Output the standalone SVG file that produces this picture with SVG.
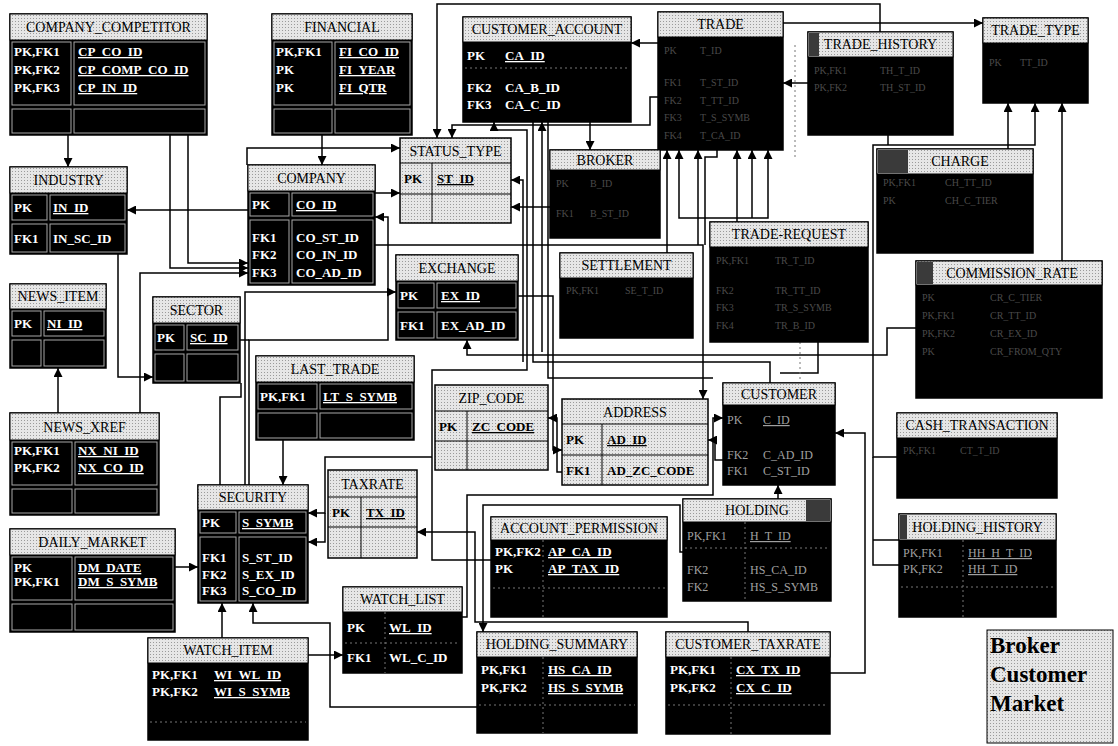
<svg xmlns="http://www.w3.org/2000/svg" width="1118" height="746" viewBox="0 0 1118 746">
<defs>
<marker id="a" viewBox="0 0 10 10" refX="10" refY="5" markerWidth="10" markerHeight="9" markerUnits="userSpaceOnUse" orient="auto"><path d="M0,0 L10,5 L0,10 z" fill="#000"/></marker>
<pattern id="dots" width="3" height="3" patternUnits="userSpaceOnUse"><rect width="3" height="3" fill="#e6e6e6"/><rect width="1" height="1" fill="#9a9a9a"/></pattern>
</defs>
<style>
.box{fill:#000;stroke:#000;stroke-width:1.5}
.gbox{fill:url(#dots);stroke:#000;stroke-width:1.5}
.hdr{fill:url(#dots);stroke:#000;stroke-width:1}
.dk{fill:#3a3a3a}
.cell{fill:none;stroke:#a8a8a8;stroke-width:1}
.gl{fill:none;stroke:#000;stroke-width:1}
.t{font-family:"Liberation Serif",serif;font-size:14px;fill:#000;text-anchor:middle}
.k{font-family:"Liberation Serif",serif;font-size:13px;font-weight:bold;fill:#fff}
.g{font-family:"Liberation Serif",serif;font-size:13px;font-weight:bold;fill:#000}
.d{font-family:"Liberation Serif",serif;font-size:12px;fill:#a0a0a0}
.f{font-family:"Liberation Serif",serif;font-size:10px;fill:#4a4a4a}
.u{text-decoration:underline}
.c{fill:none;stroke:#000;stroke-width:1.5;marker-end:url(#a)}
.n{fill:none;stroke:#000;stroke-width:1.5}
.dash{fill:none;stroke:#777;stroke-width:1;stroke-dasharray:2 3}
.leg{font-family:"Liberation Serif",serif;font-size:23px;font-weight:bold;fill:#000}
</style>
<rect width="1118" height="746" fill="#fff"/>

<g id="connectors">
<path class="c" d="M68,135 V167"/>
<path class="c" d="M170,135 V268 H248"/>
<path class="c" d="M188,135 V263 H248"/>
<path class="c" d="M248,210 H127"/>
<path class="c" d="M118,254 V377 H153"/>
<path class="c" d="M58,413 V368"/>
<path class="c" d="M140,413 V273 H248"/>
<path class="c" d="M322,135 V165"/>
<path class="c" d="M247,165 V148 H400"/>
<path class="c" d="M375,193 H400"/>
<path class="c" d="M245,485 V292 H396"/>
<path class="c" d="M249,485 V340 H388 V217 H375"/>
<path class="n" d="M240,340 H249"/>
<path class="n" d="M241,383 V397 H220 V485"/>
<path class="c" d="M283,440 V485"/>
<path class="c" d="M175,567 H198"/>
<path class="c" d="M222,638 V603"/>
<path class="c" d="M477,707 H330 V623 H253 V603"/>
<path class="c" d="M308,655 H343"/>
<path class="c" d="M432,457 H325 V513 H308"/>
<path class="c" d="M325,513 V542 H308"/>
<path class="c" d="M880,32 V4 H437 V138"/>
<path class="c" d="M658,97 H650 V125 H452 V138"/>
<path class="c" d="M658,43 H631"/>
<path class="c" d="M590,122 V150"/>
<path class="c" d="M808,83 H783"/>
<path class="c" d="M783,23 H983"/>
<path class="c" d="M1008,149 V103"/>
<path class="c" d="M898,457 H873 V145 H1035 V103"/>
<path class="n" d="M899,540 H873"/>
<path class="n" d="M899,565 H873 V457"/>
<path class="n" d="M888,135 V145"/>
<path class="c" d="M1062,261 V103"/>
<path class="c" d="M737,222 V150"/>
<path class="c" d="M737,218 H679 V150"/>
<path class="c" d="M737,218 H768 V150"/>
<path class="c" d="M752,218 V150"/>
<path class="c" d="M667,253 V150"/>
<path class="c" d="M698,245 V150"/>
<path class="n" d="M717,150 V157 H705 V245"/>
<path class="c" d="M375,245 H703 V399"/>
<path class="c" d="M916,328 H887 V355 H467 V340"/>
<path class="c" d="M830,673 H865 V433 H835"/>
<path class="c" d="M518,296 H553 V450 H562"/>
<path class="c" d="M562,472 H557 V418 H548"/>
<path class="c" d="M723,460 H715 V440 H708"/>
<path class="n" d="M548,122 V378 H713"/>
<path class="c" d="M462,617 H467 V495 H713 V418 H723"/>
<path class="n" d="M533,122 V362 H770 V383"/>
<path class="c" d="M550,207 H511"/>
<path class="c" d="M523,362 V180 H511"/>
<path class="c" d="M542,352 V122"/>
<path class="c" d="M491,560 H432 V370 H527 V130 H494 V122"/>
<path class="c" d="M683,552 H680 V505 H483 V632"/>
<path class="c" d="M778,499 V485"/>
<path class="c" d="M748,632 V622 H475 V532 H417"/>
<path class="n" d="M818,342 V373 H780"/>
<path class="dash" d="M795,45 V160"/>
<path class="dash" d="M800,342 V380"/>
</g>

<g id="company_competitor">
<rect class="box" x="10" y="14" width="197" height="121"/>
<rect class="hdr" x="10" y="14" width="197" height="26"/>
<text class="t" x="108.5" y="32">COMPANY_COMPETITOR</text>
<rect class="cell" x="12" y="42" width="59" height="63"/><rect class="cell" x="74" y="42" width="131" height="63"/>
<rect class="cell" x="12" y="109" width="59" height="24"/><rect class="cell" x="74" y="109" width="131" height="24"/>
<text class="k" x="14" y="56">PK,FK1</text><text class="k u" x="78" y="56">CP_CO_ID</text>
<text class="k" x="14" y="74">PK,FK2</text><text class="k u" x="78" y="74">CP_COMP_CO_ID</text>
<text class="k" x="14" y="92">PK,FK3</text><text class="k u" x="78" y="92">CP_IN_ID</text>
</g>

<g id="financial">
<rect class="box" x="272" y="14" width="140" height="121"/>
<rect class="hdr" x="272" y="14" width="140" height="26"/>
<text class="t" x="342" y="32">FINANCIAL</text>
<rect class="cell" x="274" y="42" width="58" height="63"/><rect class="cell" x="335" y="42" width="75" height="63"/>
<rect class="cell" x="274" y="109" width="58" height="24"/><rect class="cell" x="335" y="109" width="75" height="24"/>
<text class="k" x="276" y="56">PK,FK1</text><text class="k u" x="339" y="56">FI_CO_ID</text>
<text class="k" x="276" y="74">PK</text><text class="k u" x="339" y="74">FI_YEAR</text>
<text class="k" x="276" y="92">PK</text><text class="k u" x="339" y="92">FI_QTR</text>
</g>

<g id="industry">
<rect class="box" x="10" y="167" width="117" height="87"/>
<rect class="hdr" x="10" y="167" width="117" height="26"/>
<text class="t" x="68.5" y="185">INDUSTRY</text>
<rect class="cell" x="12" y="195" width="35" height="25"/><rect class="cell" x="50" y="195" width="75" height="25"/>
<rect class="cell" x="12" y="224" width="35" height="28"/><rect class="cell" x="50" y="224" width="75" height="28"/>
<text class="k" x="14" y="212">PK</text><text class="k u" x="53" y="212">IN_ID</text>
<text class="k" x="14" y="243">FK1</text><text class="k" x="53" y="243">IN_SC_ID</text>
</g>

<g id="company">
<rect class="box" x="248" y="165" width="127" height="120"/>
<rect class="hdr" x="248" y="165" width="127" height="26"/>
<text class="t" x="311.5" y="183">COMPANY</text>
<rect class="cell" x="250" y="193" width="39" height="23"/><rect class="cell" x="292" y="193" width="81" height="23"/>
<rect class="cell" x="250" y="220" width="39" height="63"/><rect class="cell" x="292" y="220" width="81" height="63"/>
<text class="k" x="252" y="209">PK</text><text class="k u" x="296" y="209">CO_ID</text>
<text class="k" x="252" y="242">FK1</text><text class="k" x="296" y="242">CO_ST_ID</text>
<text class="k" x="252" y="259">FK2</text><text class="k" x="296" y="259">CO_IN_ID</text>
<text class="k" x="252" y="277">FK3</text><text class="k" x="296" y="277">CO_AD_ID</text>
</g>

<g id="status_type">
<rect class="gbox" x="400" y="138" width="111" height="85"/>
<path class="gl" d="M400,163 H511 M400,194 H511 M432,163 V223"/>
<text class="t" x="455.5" y="156">STATUS_TYPE</text>
<text class="g" x="404" y="183">PK</text><text class="g u" x="437" y="183">ST_ID</text>
</g>

<g id="news_item">
<rect class="box" x="10" y="284" width="96" height="84"/>
<rect class="hdr" x="10" y="284" width="96" height="25"/>
<text class="t" x="58" y="301">NEWS_ITEM</text>
<rect class="cell" x="12" y="311" width="29" height="25"/><rect class="cell" x="44" y="311" width="60" height="25"/>
<rect class="cell" x="12" y="340" width="29" height="26"/><rect class="cell" x="44" y="340" width="60" height="26"/>
<text class="k" x="14" y="328">PK</text><text class="k u" x="47" y="328">NI_ID</text>
</g>

<g id="sector">
<rect class="box" x="153" y="297" width="87" height="86"/>
<rect class="hdr" x="153" y="297" width="87" height="26"/>
<text class="t" x="196.5" y="315">SECTOR</text>
<rect class="cell" x="155" y="325" width="29" height="25"/><rect class="cell" x="187" y="325" width="51" height="25"/>
<rect class="cell" x="155" y="354" width="29" height="27"/><rect class="cell" x="187" y="354" width="51" height="27"/>
<text class="k" x="157" y="342">PK</text><text class="k u" x="190" y="342">SC_ID</text>
</g>

<g id="news_xref">
<rect class="box" x="10" y="413" width="149" height="102"/>
<rect class="hdr" x="10" y="413" width="149" height="27"/>
<text class="t" x="84.5" y="432">NEWS_XREF</text>
<rect class="cell" x="12" y="442" width="60" height="43"/><rect class="cell" x="75" y="442" width="82" height="43"/>
<rect class="cell" x="12" y="489" width="60" height="24"/><rect class="cell" x="75" y="489" width="82" height="24"/>
<text class="k" x="14" y="455">PK,FK1</text><text class="k u" x="78" y="455">NX_NI_ID</text>
<text class="k" x="14" y="472">PK,FK2</text><text class="k u" x="78" y="472">NX_CO_ID</text>
</g>

<g id="exchange">
<rect class="box" x="396" y="255" width="122" height="85"/>
<rect class="hdr" x="396" y="255" width="122" height="26"/>
<text class="t" x="457" y="273">EXCHANGE</text>
<rect class="cell" x="398" y="283" width="36" height="25"/><rect class="cell" x="437" y="283" width="79" height="25"/>
<rect class="cell" x="398" y="312" width="36" height="26"/><rect class="cell" x="437" y="312" width="79" height="26"/>
<text class="k" x="400" y="300">PK</text><text class="k u" x="441" y="300">EX_ID</text>
<text class="k" x="400" y="330">FK1</text><text class="k" x="441" y="330">EX_AD_ID</text>
</g>

<g id="last_trade">
<rect class="box" x="256" y="356" width="158" height="84"/>
<rect class="hdr" x="256" y="356" width="158" height="26"/>
<text class="t" x="335" y="374">LAST_TRADE</text>
<rect class="cell" x="258" y="384" width="59" height="25"/><rect class="cell" x="320" y="384" width="92" height="25"/>
<rect class="cell" x="258" y="413" width="59" height="25"/><rect class="cell" x="320" y="413" width="92" height="25"/>
<text class="k" x="260" y="401">PK,FK1</text><text class="k u" x="323" y="401">LT_S_SYMB</text>
</g>

<g id="zip_code">
<rect class="gbox" x="435" y="385" width="113" height="85"/>
<path class="gl" d="M435,411 H548 M435,441 H548 M467,411 V470"/>
<text class="t" x="491.5" y="403">ZIP_CODE</text>
<text class="g" x="439" y="431">PK</text><text class="g u" x="472" y="431">ZC_CODE</text>
</g>

<g id="address">
<rect class="gbox" x="562" y="399" width="146" height="86"/>
<path class="gl" d="M562,424 H708 M562,455 H708 M602,424 V485"/>
<text class="t" x="635" y="417">ADDRESS</text>
<text class="g" x="566" y="444">PK</text><text class="g u" x="607" y="444">AD_ID</text>
<text class="g" x="566" y="475">FK1</text><text class="g" x="607" y="475">AD_ZC_CODE</text>
</g>

<g id="customer">
<rect class="box" x="723" y="383" width="112" height="102"/>
<rect class="hdr" x="723" y="383" width="112" height="22"/>
<text class="t" x="779" y="399">CUSTOMER</text>
<text class="d" x="727" y="424">PK</text><text class="d u" x="763" y="424">C_ID</text>
<text class="d" x="727" y="459">FK2</text><text class="d" x="763" y="459">C_AD_ID</text>
<text class="d" x="727" y="475">FK1</text><text class="d" x="763" y="475">C_ST_ID</text>
</g>

<g id="security">
<rect class="box" x="198" y="485" width="110" height="118"/>
<rect class="hdr" x="198" y="485" width="110" height="25"/>
<text class="t" x="253" y="502">SECURITY</text>
<rect class="cell" x="200" y="512" width="36" height="21"/><rect class="cell" x="239" y="512" width="67" height="21"/>
<rect class="cell" x="200" y="537" width="36" height="64"/><rect class="cell" x="239" y="537" width="67" height="64"/>
<text class="k" x="202" y="527">PK</text><text class="k u" x="242" y="527">S_SYMB</text>
<text class="k" x="202" y="562">FK1</text><text class="k" x="242" y="562">S_ST_ID</text>
<text class="k" x="202" y="579">FK2</text><text class="k" x="242" y="579">S_EX_ID</text>
<text class="k" x="202" y="595">FK3</text><text class="k" x="242" y="595">S_CO_ID</text>
</g>

<g id="taxrate">
<rect class="gbox" x="328" y="470" width="89" height="88"/>
<path class="gl" d="M328,497 H417 M328,527 H417 M361,497 V558"/>
<text class="t" x="372.5" y="489">TAXRATE</text>
<text class="g" x="332" y="517">PK</text><text class="g u" x="366" y="517">TX_ID</text>
</g>

<g id="daily_market">
<rect class="box" x="10" y="529" width="165" height="103"/>
<rect class="hdr" x="10" y="529" width="165" height="26"/>
<text class="t" x="92.5" y="547">DAILY_MARKET</text>
<rect class="cell" x="12" y="557" width="60" height="43"/><rect class="cell" x="75" y="557" width="98" height="43"/>
<rect class="cell" x="12" y="604" width="60" height="26"/><rect class="cell" x="75" y="604" width="98" height="26"/>
<text class="k" x="14" y="572">PK</text><text class="k u" x="78" y="572">DM_DATE</text>
<text class="k" x="14" y="586">PK,FK1</text><text class="k u" x="78" y="586">DM_S_SYMB</text>
</g>

<g id="watch_item">
<rect class="box" x="148" y="638" width="160" height="102"/>
<rect class="hdr" x="148" y="638" width="160" height="25"/>
<text class="t" x="228" y="655">WATCH_ITEM</text>
<path class="dash" d="M150,722 H306"/>
<text class="k" x="152" y="679">PK,FK1</text><text class="k u" x="214" y="679">WI_WL_ID</text>
<text class="k" x="152" y="696">PK,FK2</text><text class="k u" x="214" y="696">WI_S_SYMB</text>
</g>

<g id="watch_list">
<rect class="box" x="343" y="587" width="119" height="86"/>
<rect class="hdr" x="343" y="587" width="119" height="25"/>
<text class="t" x="402.5" y="604">WATCH_LIST</text>
<path class="dash" d="M385,612 V673 M345,643 H460"/>
<text class="k" x="347" y="632">PK</text><text class="k u" x="389" y="632">WL_ID</text>
<text class="k" x="347" y="662">FK1</text><text class="k" x="389" y="662">WL_C_ID</text>
</g>

<g id="account_permission">
<rect class="box" x="491" y="517" width="176" height="100"/>
<rect class="hdr" x="491" y="517" width="176" height="23"/>
<text class="t" x="579" y="533">ACCOUNT_PERMISSION</text>
<path class="dash" d="M543,540 V617 M493,588 H665"/>
<text class="k" x="495" y="556">PK,FK2</text><text class="k u" x="548" y="556">AP_CA_ID</text>
<text class="k" x="495" y="573">PK</text><text class="k u" x="548" y="573">AP_TAX_ID</text>
</g>

<g id="holding">
<rect class="box" x="683" y="499" width="148" height="102"/>
<rect class="hdr" x="683" y="499" width="148" height="23"/>
<rect class="dk" x="806" y="500" width="24" height="21"/>
<text class="t" x="757" y="515">HOLDING</text>
<path class="dash" d="M745,522 V601 M685,548 H829"/>
<text class="d" x="687" y="540">PK,FK1</text><text class="d u" x="750" y="540">H_T_ID</text>
<text class="d" x="687" y="574">FK2</text><text class="d" x="750" y="574">HS_CA_ID</text>
<text class="d" x="687" y="591">FK2</text><text class="d" x="750" y="591">HS_S_SYMB</text>
</g>

<g id="holding_summary">
<rect class="box" x="477" y="632" width="160" height="101"/>
<rect class="hdr" x="477" y="632" width="160" height="25"/>
<text class="t" x="557" y="649">HOLDING_SUMMARY</text>
<path class="dash" d="M543,657 V733 M479,705 H635"/>
<text class="k" x="481" y="674">PK,FK1</text><text class="k u" x="548" y="674">HS_CA_ID</text>
<text class="k" x="481" y="692">PK,FK2</text><text class="k u" x="548" y="692">HS_S_SYMB</text>
</g>

<g id="customer_taxrate">
<rect class="box" x="666" y="632" width="164" height="102"/>
<rect class="hdr" x="666" y="632" width="164" height="25"/>
<text class="t" x="748" y="649">CUSTOMER_TAXRATE</text>
<path class="dash" d="M731,657 V734 M668,705 H828"/>
<text class="k" x="670" y="674">PK,FK1</text><text class="k u" x="736" y="674">CX_TX_ID</text>
<text class="k" x="670" y="692">PK,FK2</text><text class="k u" x="736" y="692">CX_C_ID</text>
</g>

<g id="holding_history">
<rect class="box" x="899" y="514" width="157" height="103"/>
<rect class="hdr" x="899" y="514" width="157" height="26"/>
<rect class="dk" x="900" y="515" width="7" height="24"/>
<text class="t" x="977.5" y="532">HOLDING_HISTORY</text>
<path class="dash" d="M963,540 V617 M901,587 H1054"/>
<text class="d" x="903" y="557">PK,FK1</text><text class="d u" x="968" y="557">HH_H_T_ID</text>
<text class="d" x="903" y="573">PK,FK2</text><text class="d u" x="968" y="573">HH_T_ID</text>
</g>

<g id="customer_account">
<rect class="box" x="463" y="17" width="168" height="105"/>
<rect class="hdr" x="463" y="17" width="168" height="25"/>
<text class="t" x="547" y="34">CUSTOMER_ACCOUNT</text>
<path class="dash" d="M465,68 H629"/>
<text class="k" x="467" y="60">PK</text><text class="k u" x="505" y="60">CA_ID</text>
<text class="k" x="467" y="92">FK2</text><text class="k" x="505" y="92">CA_B_ID</text>
<text class="k" x="467" y="109">FK3</text><text class="k" x="505" y="109">CA_C_ID</text>
</g>

<g id="trade">
<rect class="box" x="658" y="12" width="125" height="138"/>
<rect class="hdr" x="658" y="12" width="125" height="25"/>
<text class="t" x="720.5" y="29">TRADE</text>
<text class="f" x="664" y="54">PK</text><text class="f" x="700" y="54">T_ID</text>
<text class="f" x="664" y="86">FK1</text><text class="f" x="700" y="86">T_ST_ID</text>
<text class="f" x="664" y="104">FK2</text><text class="f" x="700" y="104">T_TT_ID</text>
<text class="f" x="664" y="121">FK3</text><text class="f" x="700" y="121">T_S_SYMB</text>
<text class="f" x="664" y="139">FK4</text><text class="f" x="700" y="139">T_CA_ID</text>
</g>

<g id="trade_history">
<rect class="box" x="808" y="32" width="145" height="103"/>
<rect class="hdr" x="808" y="32" width="145" height="25"/>
<rect class="dk" x="809" y="33" width="10" height="23"/>
<text class="t" x="880.5" y="49">TRADE_HISTORY</text>
<text class="f" x="814" y="74">PK,FK1</text><text class="f" x="880" y="74">TH_T_ID</text>
<text class="f" x="814" y="91">PK,FK2</text><text class="f" x="880" y="91">TH_ST_ID</text>
</g>

<g id="trade_type">
<rect class="box" x="983" y="18" width="105" height="85"/>
<rect class="hdr" x="983" y="18" width="105" height="25"/>
<text class="t" x="1035.5" y="35">TRADE_TYPE</text>
<text class="f" x="989" y="66">PK</text><text class="f" x="1020" y="66">TT_ID</text>
</g>

<g id="broker">
<rect class="box" x="550" y="150" width="110" height="88"/>
<rect class="hdr" x="550" y="150" width="110" height="20"/>
<text class="t" x="605" y="165">BROKER</text>
<text class="f" x="556" y="187">PK</text><text class="f" x="590" y="187">B_ID</text>
<text class="f" x="556" y="217">FK1</text><text class="f" x="590" y="217">B_ST_ID</text>
</g>

<g id="settlement">
<rect class="box" x="560" y="253" width="133" height="85"/>
<rect class="hdr" x="560" y="253" width="133" height="25"/>
<text class="t" x="626.5" y="270">SETTLEMENT</text>
<text class="f" x="566" y="294">PK,FK1</text><text class="f" x="625" y="294">SE_T_ID</text>
</g>

<g id="trade_request">
<rect class="box" x="710" y="222" width="158" height="120"/>
<rect class="hdr" x="710" y="222" width="158" height="25"/>
<text class="t" x="789" y="239">TRADE-REQUEST</text>
<text class="f" x="716" y="264">PK,FK1</text><text class="f" x="775" y="264">TR_T_ID</text>
<text class="f" x="716" y="294">FK2</text><text class="f" x="775" y="294">TR_TT_ID</text>
<text class="f" x="716" y="311">FK3</text><text class="f" x="775" y="311">TR_S_SYMB</text>
<text class="f" x="716" y="329">FK4</text><text class="f" x="775" y="329">TR_B_ID</text>
</g>

<g id="charge">
<rect class="box" x="877" y="149" width="156" height="104"/>
<rect class="hdr" x="877" y="149" width="156" height="25"/>
<rect class="dk" x="878" y="150" width="30" height="23"/>
<text class="t" x="960" y="166">CHARGE</text>
<text class="f" x="883" y="186">PK,FK1</text><text class="f" x="945" y="186">CH_TT_ID</text>
<text class="f" x="883" y="204">PK</text><text class="f" x="945" y="204">CH_C_TIER</text>
</g>

<g id="commission_rate">
<rect class="box" x="916" y="261" width="186" height="137"/>
<rect class="hdr" x="916" y="261" width="186" height="24"/>
<rect class="dk" x="917" y="262" width="16" height="22"/>
<text class="t" x="1012" y="278">COMMISSION_RATE</text>
<text class="f" x="922" y="301">PK</text><text class="f" x="990" y="301">CR_C_TIER</text>
<text class="f" x="922" y="319">PK,FK1</text><text class="f" x="990" y="319">CR_TT_ID</text>
<text class="f" x="922" y="337">PK,FK2</text><text class="f" x="990" y="337">CR_EX_ID</text>
<text class="f" x="922" y="355">PK</text><text class="f" x="990" y="355">CR_FROM_QTY</text>
</g>

<g id="cash_transaction">
<rect class="box" x="897" y="413" width="160" height="85"/>
<rect class="hdr" x="897" y="413" width="160" height="25"/>
<text class="t" x="977" y="430">CASH_TRANSACTION</text>
<text class="f" x="903" y="454">PK,FK1</text><text class="f" x="960" y="454">CT_T_ID</text>
</g>

<g id="legend">
<rect x="987" y="630" width="126" height="113" fill="url(#dots)" stroke="#000" stroke-width="1"/>
<text class="leg" x="990" y="653">Broker</text>
<text class="leg" x="990" y="682">Customer</text>
<text class="leg" x="990" y="711">Market</text>
</g>
</svg>
